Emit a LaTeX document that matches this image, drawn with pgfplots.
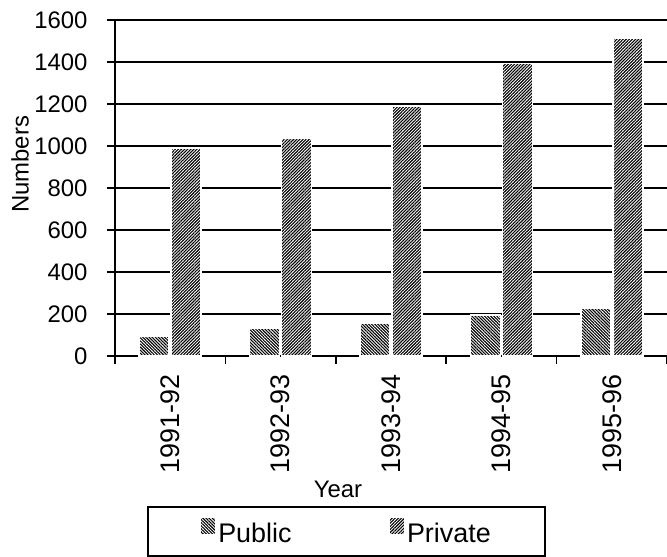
\documentclass[border=0pt]{standalone}
\usepackage{pgfplots}
\pgfplotsset{compat=1.18}
\usepackage{pgfplotstable}
\usetikzlibrary{patterns.meta}
\usepackage{fontspec}
\setmainfont{Liberation Sans}

\pgfplotstableread{
x public private
0 95 990
1 133 1035
2 158 1188
3 195 1392
4 225 1512
}\yeartable

\newcommand{\bigfont}{\fontsize{24}{28}\selectfont}

\begin{document}
\begin{tikzpicture}
\begin{axis}[
    scale only axis,
    width=552bp, height=336bp,
    xmin=-0.5, xmax=4.5,
    ymin=0, ymax=1600,
    axis x line=bottom, axis y line=left,
    axis line style={-, line width=1.6pt},
    ytick={0,200,...,1600},
    ymajorgrids=true,
    grid style={black, line width=1.6pt},
    tick align=outside,
    major tick length=8bp,
    minor tick length=8bp,
    major y tick style={black, line width=1.6pt},
    xtick={0,...,4},
    xticklabels={1991-92,1992-93,1993-94,1994-95,1995-96},
    major x tick style={draw=none},
    minor xtick={-0.5,0.5,...,4.5},
    minor x tick style={black, line width=1.6pt},
    tick label style={font=\bigfont},
    xticklabel style={yshift=-7bp, rotate=90, anchor=east, font=\fontsize{27}{30}\selectfont},
    yticklabel style={xshift=-16bp},
    /pgf/number format/assume math mode=true,
    /pgf/number format/1000 sep={},
    label style={font=\bigfont},
    ylabel={Numbers},
    ylabel style={at={(rel axis cs:0,0.57)}, yshift=95bp, anchor=center},
    xlabel={Year},
    xlabel style={at={(rel axis cs:0,0)}, xshift=223bp, yshift=-141bp, anchor=base},
    legend columns=2,
    legend style={at={(rel axis cs:0,0)}, anchor=north west,
        xshift=32bp, yshift=-150bp,
        draw=black, line width=1.6pt, inner xsep=52bp, inner ysep=10bp,
        font=\fontsize{27}{30}\selectfont,
        /tikz/every even column/.append style={column sep=95bp}},
    legend image code/.code={\path[#1] (0bp,-1bp) rectangle (15bp,16bp);},
    bar width=30bp,
]
\addplot[ybar, bar shift=-16bp, fill=white, draw=white, line width=1.5pt,
    postaction={pattern={Lines[angle=-45, distance=2.2pt, line width=1.1pt]}}]
    table[x=x, y=public] {\yeartable};
\addlegendentry{Public}
\addplot[ybar, bar shift=16bp, fill=white, draw=white, line width=1.5pt,
    postaction={pattern={Lines[angle=45, distance=2.2pt, line width=1.1pt]}}]
    table[x=x, y=private] {\yeartable};
\addlegendentry{Private}
\coordinate (O) at (rel axis cs:0,0);
\end{axis}
\pgfresetboundingbox
\useasboundingbox ([xshift=-115bp, yshift=-201bp]O) rectangle ([xshift=552bp, yshift=356bp]O);
\end{tikzpicture}
\end{document}
